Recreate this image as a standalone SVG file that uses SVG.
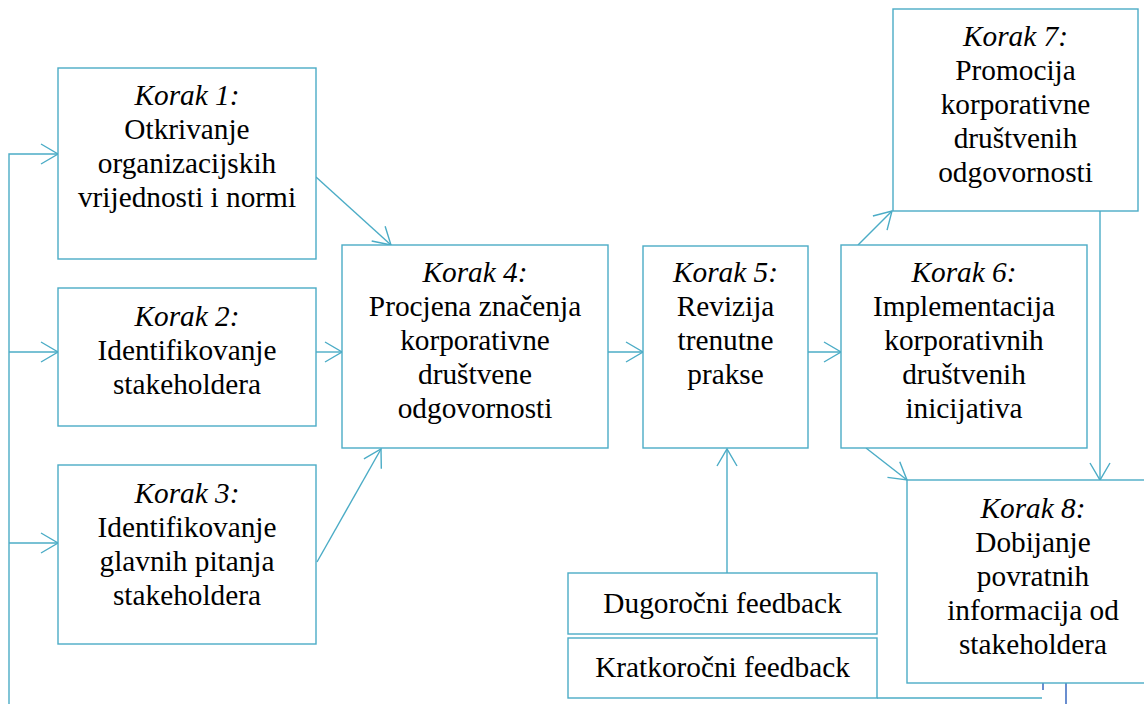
<svg xmlns="http://www.w3.org/2000/svg" width="1144" height="704" viewBox="0 0 1144 704">
  <style>
    .box { fill: #ffffff; stroke: #4bacc6; stroke-width: 1.4; }
    .con { fill: none; stroke: #4bacc6; stroke-width: 1.4; }
    .tick { fill: none; stroke: #4472c4; stroke-width: 1.6; }
    .lbl { font-family: "Liberation Serif", "Times New Roman", serif; font-size: 29.3px; fill: #000000; text-anchor: middle; }
    .step { font-style: italic; }
  </style>
  <defs>
    <marker id="arrow" markerUnits="userSpaceOnUse" viewBox="-20 -12 22 24" refX="0" refY="0" markerWidth="22" markerHeight="24" orient="auto" overflow="visible">
      <path d="M-17,-10 L0,0 L-17,10" fill="none" stroke="#4bacc6" stroke-width="1.4"/>
    </marker>
  </defs>

  <rect width="1144" height="704" fill="#ffffff"/>

  <!-- connectors -->
  <g id="connectors">
    <line class="con" x1="316" y1="177" x2="391" y2="245" marker-end="url(#arrow)"/>
    <line class="con" x1="316" y1="352" x2="342" y2="352" marker-end="url(#arrow)"/>
    <line class="con" x1="317" y1="562" x2="381" y2="449" marker-end="url(#arrow)"/>
    <line class="con" x1="608" y1="352" x2="643" y2="352" marker-end="url(#arrow)"/>
    <line class="con" x1="808" y1="352" x2="841" y2="352" marker-end="url(#arrow)"/>
    <line class="con" x1="858" y1="245" x2="892" y2="211" marker-end="url(#arrow)"/>
    <line class="con" x1="1100" y1="211" x2="1100" y2="480" marker-end="url(#arrow)"/>
    <line class="con" x1="866" y1="448" x2="907" y2="480" marker-end="url(#arrow)"/>
    <line class="con" x1="727" y1="573" x2="727" y2="449" marker-end="url(#arrow)"/>
    <!-- feedback rail on the left -->
    <polyline class="con" points="9,704 9,154 58,154" marker-end="url(#arrow)"/>
    <line class="con" x1="9" y1="352" x2="58" y2="352" marker-end="url(#arrow)"/>
    <line class="con" x1="9" y1="543" x2="58" y2="543" marker-end="url(#arrow)"/>
    <!-- short-term feedback return line -->
    <line class="con" x1="877" y1="698" x2="1042" y2="698"/>
    <line class="tick" x1="1043" y1="675" x2="1043" y2="690"/>
    <line class="tick" x1="1066" y1="675" x2="1066" y2="704"/>
  </g>

  <g id="step1">
    <rect class="box" x="58" y="68" width="258" height="191"/>
    <text class="lbl step" x="187" y="105">Korak 1:</text>
    <text class="lbl" x="187" y="139">Otkrivanje</text>
    <text class="lbl" x="187" y="173">organizacijskih</text>
    <text class="lbl" x="187" y="207">vrijednosti i normi</text>
  </g>

  <g id="step2">
    <rect class="box" x="58" y="288" width="258" height="138"/>
    <text class="lbl step" x="187" y="326">Korak 2:</text>
    <text class="lbl" x="187" y="360">Identifikovanje</text>
    <text class="lbl" x="187" y="394">stakeholdera</text>
  </g>

  <g id="step3">
    <rect class="box" x="58" y="465" width="258" height="179"/>
    <text class="lbl step" x="187" y="503">Korak 3:</text>
    <text class="lbl" x="187" y="537">Identifikovanje</text>
    <text class="lbl" x="187" y="571">glavnih pitanja</text>
    <text class="lbl" x="187" y="605">stakeholdera</text>
  </g>

  <g id="step4">
    <rect class="box" x="342" y="245" width="266" height="203"/>
    <text class="lbl step" x="475" y="282">Korak 4:</text>
    <text class="lbl" x="475" y="316">Procjena značenja</text>
    <text class="lbl" x="475" y="350">korporativne</text>
    <text class="lbl" x="475" y="384">društvene</text>
    <text class="lbl" x="475" y="418">odgovornosti</text>
  </g>

  <g id="step5">
    <rect class="box" x="643" y="246" width="165" height="202"/>
    <text class="lbl step" x="725.5" y="282">Korak 5:</text>
    <text class="lbl" x="725.5" y="316">Revizija</text>
    <text class="lbl" x="725.5" y="350">trenutne</text>
    <text class="lbl" x="725.5" y="384">prakse</text>
  </g>

  <g id="step6">
    <rect class="box" x="841" y="245" width="246" height="203"/>
    <text class="lbl step" x="964" y="282">Korak 6:</text>
    <text class="lbl" x="964" y="316">Implementacija</text>
    <text class="lbl" x="964" y="350">korporativnih</text>
    <text class="lbl" x="964" y="384">društvenih</text>
    <text class="lbl" x="964" y="418">inicijativa</text>
  </g>

  <g id="step7">
    <rect class="box" x="893" y="9" width="245" height="202"/>
    <text class="lbl step" x="1015.5" y="46">Korak 7:</text>
    <text class="lbl" x="1015.5" y="80">Promocija</text>
    <text class="lbl" x="1015.5" y="114">korporativne</text>
    <text class="lbl" x="1015.5" y="148">društvenih</text>
    <text class="lbl" x="1015.5" y="182">odgovornosti</text>
  </g>

  <g id="step8">
    <rect class="box" x="907" y="480" width="252" height="203"/>
    <text class="lbl step" x="1033" y="518">Korak 8:</text>
    <text class="lbl" x="1033" y="552">Dobijanje</text>
    <text class="lbl" x="1033" y="586">povratnih</text>
    <text class="lbl" x="1033" y="620">informacija od</text>
    <text class="lbl" x="1033" y="654">stakeholdera</text>
  </g>

  <g id="long-term-feedback">
    <rect class="box" x="568" y="573" width="309" height="61"/>
    <text class="lbl" x="722.5" y="613">Dugoročni feedback</text>
  </g>

  <g id="short-term-feedback">
    <rect class="box" x="568" y="638" width="309" height="60"/>
    <text class="lbl" x="722.5" y="677">Kratkoročni feedback</text>
  </g>
</svg>
